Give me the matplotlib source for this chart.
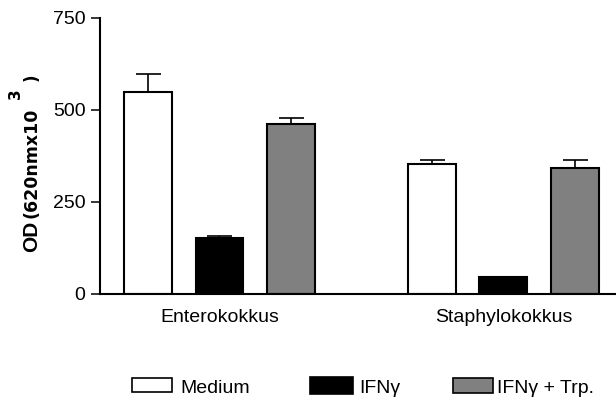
import matplotlib
matplotlib.use('Agg')
import matplotlib.pyplot as plt
from matplotlib.patches import Rectangle
import numpy as np

plt.rcParams['font.family'] = ['Liberation Sans', 'DejaVu Sans']

# OD values per group (Enterokokkus, Staphylokokkus), SEM drawn upward only
groups = ['Enterokokkus', 'Staphylokokkus']
conditions = ['Medium', 'IFNγ', 'IFNγ + Trp.']
medium = [548, 353]
medium_err = [49, 11]
ifn = [153, 45]
ifn_err = [5, 0]
ifn_trp = [461, 342]
ifn_trp_err = [16, 22]
yticks = [0, 250, 500, 750]

colors = ['white', 'black', '#808080']

W, H = 616, 400
fig = plt.figure(figsize=(W / 100, H / 100), dpi=100)
ax = fig.add_axes([100 / W, 106 / H, 516 / W, 276 / H])

group_x = np.array([0, 3.97])
width = 0.67
series = [(medium, medium_err), (ifn, ifn_err), (ifn_trp, ifn_trp_err)]
for i, ((vals, errs), col) in enumerate(zip(series, colors)):
    x = group_x + i
    ax.bar(x, vals, width, color=col, edgecolor='black', linewidth=1.5, zorder=2)
    ax.errorbar(x, vals, yerr=[np.zeros(len(errs)), errs], fmt='none',
                ecolor='black', elinewidth=1.2, capsize=9, capthick=1.2, zorder=1)

ax.set_xlim(-0.671, 6.545)
ax.set_ylim(0, 750)
ax.set_yticks(yticks)
ax.set_xticks(group_x + 1)
ax.set_xticklabels(groups)
ax.tick_params(axis='x', length=0, pad=11, labelsize=14)
ax.tick_params(axis='y', length=6.5, width=1.1, pad=4, labelsize=14)
for s in ['top', 'right']:
    ax.spines[s].set_visible(False)
ax.spines['left'].set_linewidth(1.5)
ax.spines['bottom'].set_linewidth(1.5)

# y-axis label: OD with subscript (620nm x 10^3), built from rotated pieces
def vtext(x, y, s, size, family, weight='bold'):
    fig.text(x / W, 1 - y / H, s, rotation=90, rotation_mode='anchor',
             ha='left', va='baseline', fontsize=size, family=family,
             weight=weight)

vtext(37.5, 252, 'OD', 15, 'Liberation Sans')
vtext(37, 218, '(620nmx10', 12.5, 'DejaVu Sans')
vtext(20, 99, '3', 11, 'DejaVu Sans')
vtext(37, 81, ')', 12, 'DejaVu Sans')

# legend row below the chart
legend_boxes = [(131.7, 378, 40, 14), (310, 377, 42.7, 17), (452.7, 378, 40.6, 15)]
legend_text_x = [180, 359, 497]
for (bx, by, bw, bh), tx, col, lab in zip(legend_boxes, legend_text_x, colors, conditions):
    fig.add_artist(Rectangle((bx / W, 1 - (by + bh) / H), bw / W, bh / H,
                             transform=fig.transFigure, facecolor=col,
                             edgecolor='black', linewidth=1.2))
    fig.text(tx / W, 1 - 393 / H, lab, ha='left', va='baseline', fontsize=14)

fig.savefig('out.png', dpi=100)
